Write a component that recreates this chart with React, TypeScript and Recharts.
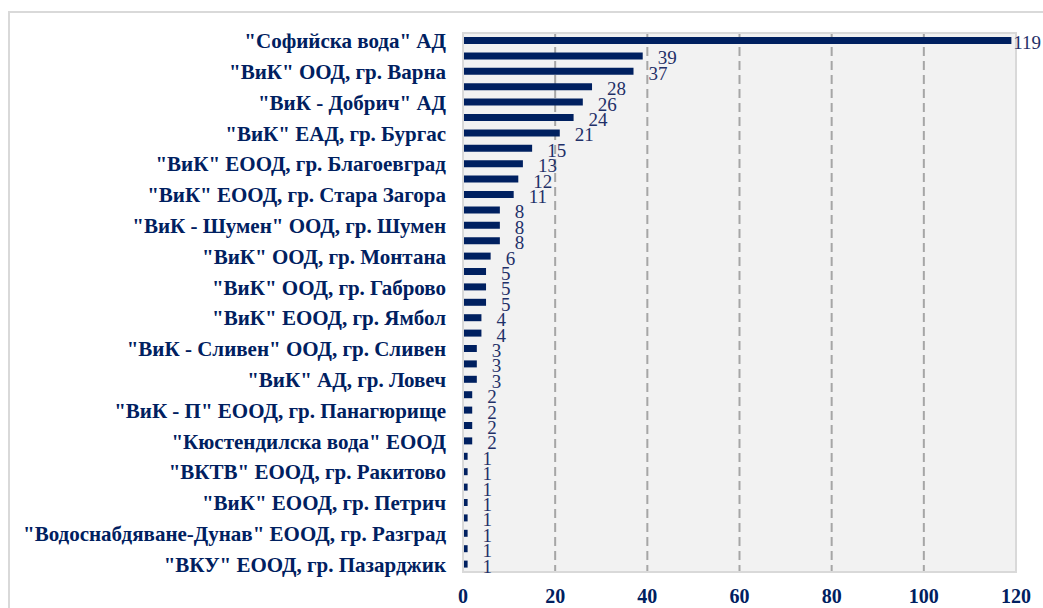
import React from "react";
import {
  BarChart,
  Bar,
  XAxis,
  YAxis,
  CartesianGrid,
  ReferenceArea,
  LabelList,
} from "recharts";

const operators = [
  '"Софийска вода" АД',
  '"ВиК" ЕООД, гр. Пловдив',
  '"ВиК" ООД, гр. Варна',
  '"ВиК" ООД, гр. Русе',
  '"ВиК - Добрич" АД',
  '"ВиК" ООД, гр. Плевен',
  '"ВиК" ЕАД, гр. Бургас',
  '"ВиК" ЕООД, гр. Хасково',
  '"ВиК" ЕООД, гр. Благоевград',
  '"ВиК" ООД, гр. Велико Търново',
  '"ВиК" ЕООД, гр. Стара Загора',
  '"ВиК" ООД, гр. Перник',
  '"ВиК - Шумен" ООД, гр. Шумен',
  '"ВиК" ЕООД, гр. Кърджали',
  '"ВиК" ООД, гр. Монтана',
  '"ВиК" ЕООД, гр. Враца',
  '"ВиК" ООД, гр. Габрово',
  '"ВиК" ООД, гр. Смолян',
  '"ВиК" ЕООД, гр. Ямбол',
  '"ВиК" ЕООД, гр. Търговище',
  '"ВиК - Сливен" ООД, гр. Сливен',
  '"ВиК" ООД, гр. Силистра',
  '"ВиК" АД, гр. Ловеч',
  '"ВиК" ООД, гр. Видин',
  '"ВиК - П" ЕООД, гр. Панагюрище',
  '"ВиК" ЕООД, гр. Дупница',
  '"Кюстендилска вода" ЕООД',
  '"ВиК" ЕООД, гр. Сандански',
  '"ВКТВ" ЕООД, гр. Ракитово',
  '"ВиК" ЕООД, гр. Гоце Делчев',
  '"ВиК" ЕООД, гр. Петрич',
  '"ВиК" ЕООД, гр. Белово',
  '"Водоснабдяване-Дунав" ЕООД, гр. Разград',
  '"ВиК" ЕООД, гр. Берковица',
  '"ВКУ" ЕООД, гр. Пазарджик',
];

const counts = [
  119, 39, 37, 28, 26, 24, 21, 15, 13, 12, 11, 8, 8, 8, 6, 5, 5, 5, 4, 4, 3, 3,
  3, 2, 2, 2, 2, 1, 1, 1, 1, 1, 1, 1, 1,
];

const xTicks = [0, 20, 40, 60, 80, 100, 120];

const NAVY = "#002060";
const SERIF = "Liberation Serif, Times New Roman, serif";
const W = 1043;
const H = 608;

const data = operators.map((name, i) => ({ name, value: counts[i] }));

function ValueLabel(props: any) {
  const { x, y, width, height, value } = props;
  const txt = String(value);
  const tw = txt.length * 9.6;
  const tx = Math.min(x + width + 15, W - tw - 1);
  return (
    <text
      x={tx}
      y={y + height / 2 + 2}
      dominantBaseline="central"
      style={{ fontFamily: SERIF, fontSize: 19 }}
      fill="#1f3068"
    >
      {txt}
    </text>
  );
}

const yTick = {
  fontWeight: 700,
  fontSize: 21,
  fill: NAVY,
  style: { fontFamily: SERIF },
};

const xTick = {
  fontWeight: 700,
  fontSize: 20,
  fill: NAVY,
  style: { fontFamily: SERIF },
};

export default function App() {
  return (
    <div
      style={{
        position: "absolute",
        left: 0,
        top: 0,
        width: W,
        height: H,
        background: "#fff",
        overflow: "hidden",
        fontFamily: SERIF,
      }}
    >
      <div
        style={{
          position: "absolute",
          left: 8,
          top: 11,
          width: W,
          height: H,
          borderLeft: "2px solid #d9d9d9",
          borderTop: "2px solid #d9d9d9",
        }}
      />
      <div style={{ position: "absolute", left: 0, top: 0 }}>
        <BarChart
          width={W}
          height={H}
          data={data}
          layout="vertical"
          margin={{ top: 33, right: 27, bottom: 0, left: 0 }}
          barCategoryGap={4}
          style={{ fontFamily: SERIF }}
        >
          <CartesianGrid
            horizontal={false}
            vertical
            fill="#f2f2f2"
            stroke="#a6a6a6"
            strokeWidth={2}
            strokeDasharray="9 5"
          />
          <ReferenceArea
            x1={0}
            x2={120}
            fill="none"
            stroke="#d9d9d9"
            strokeWidth={2}
            fillOpacity={0}
            ifOverflow="visible"
          />
          <XAxis
            type="number"
            domain={[0, 120]}
            ticks={xTicks}
            height={36}
            axisLine={{ stroke: "#d9d9d9", strokeWidth: 2 }}
            tickLine={false}
            tickMargin={11}
            tick={xTick}
          />
          <YAxis
            type="category"
            dataKey="name"
            width={463}
            interval={1}
            axisLine={{ stroke: "#d9d9d9", strokeWidth: 2 }}
            tickLine={false}
            tickSize={6}
            tickMargin={11}
            tick={yTick}
          />
          <Bar dataKey="value" fill={NAVY} barSize={7} isAnimationActive={false}>
            <LabelList dataKey="value" content={ValueLabel} />
          </Bar>
        </BarChart>
      </div>
    </div>
  );
}
